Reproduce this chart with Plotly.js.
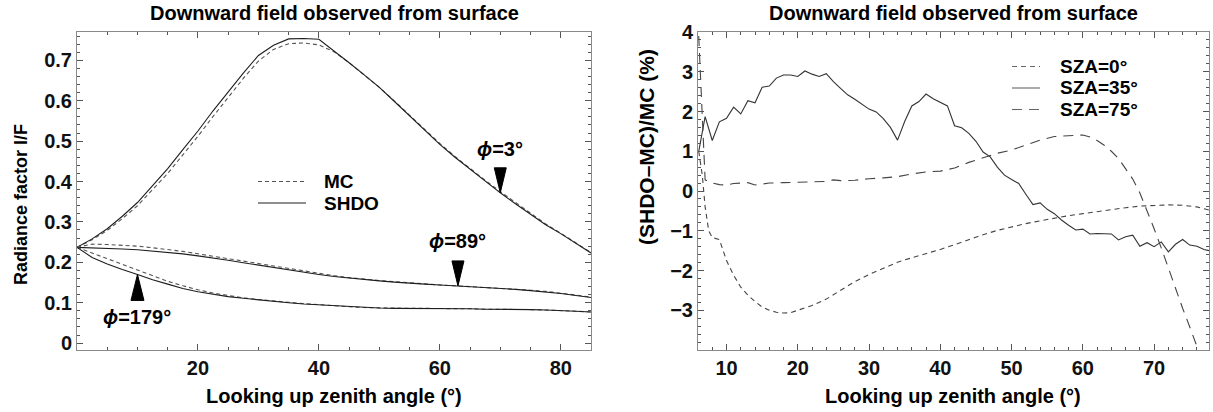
<!DOCTYPE html>
<html>
<head>
<meta charset="utf-8">
<script src="https://cdn.plot.ly/plotly-3.0.1.min.js"></script>
<style>html,body{margin:0;padding:0;background:#fff;}#chart{width:1213px;height:412px;}</style>
</head>
<body>
<div id="chart"></div>
<script>
// ---------- Left panel: radiance factor vs looking-up zenith angle ----------
const xPhi = [0,2.5,5,7.5,10,12.5,15,17.5,20,22.5,25,27.5,30,32.5,35,37.5,40,42.5,45,47.5,50,52.5,55,57.5,60,62.5,65,67.5,70,72.5,75,77.5,80,82.5,85];
const shdo3 = [0.237,0.258,0.283,0.314,0.348,0.390,0.432,0.479,0.525,0.575,0.622,0.668,0.712,0.737,0.753,0.754,0.752,0.724,0.694,0.664,0.633,0.598,0.562,0.528,0.492,0.460,0.430,0.400,0.372,0.345,0.318,0.293,0.271,0.248,0.223];
const mc3 = [0.237,0.256,0.279,0.308,0.340,0.380,0.420,0.466,0.512,0.561,0.608,0.655,0.698,0.727,0.741,0.743,0.738,0.721,0.694,0.664,0.633,0.599,0.564,0.530,0.494,0.462,0.432,0.403,0.375,0.348,0.320,0.295,0.272,0.249,0.224];
const shdo89 = [0.237,0.236,0.234,0.233,0.231,0.228,0.225,0.221,0.216,0.211,0.205,0.199,0.193,0.187,0.181,0.175,0.170,0.165,0.161,0.157,0.154,0.151,0.148,0.146,0.144,0.142,0.140,0.138,0.136,0.133,0.130,0.127,0.123,0.118,0.113];
const mc89 = [0.237,0.245,0.244,0.242,0.240,0.236,0.232,0.227,0.221,0.215,0.209,0.203,0.196,0.190,0.184,0.178,0.172,0.167,0.162,0.158,0.155,0.152,0.149,0.146,0.144,0.142,0.140,0.138,0.136,0.134,0.131,0.128,0.124,0.119,0.114];
const shdo179 = [0.237,0.212,0.196,0.182,0.170,0.157,0.146,0.135,0.127,0.121,0.115,0.111,0.107,0.103,0.100,0.097,0.095,0.092,0.090,0.088,0.087,0.086,0.086,0.086,0.086,0.085,0.085,0.084,0.084,0.083,0.083,0.082,0.081,0.079,0.077];
const mc179 = [0.237,0.223,0.208,0.194,0.181,0.167,0.153,0.142,0.132,0.124,0.118,0.112,0.108,0.104,0.101,0.098,0.095,0.092,0.090,0.088,0.087,0.086,0.086,0.086,0.086,0.085,0.085,0.084,0.084,0.083,0.083,0.082,0.081,0.079,0.077];

const phiLabels = ['<i>ϕ</i>=3°', '<i>ϕ</i>=89°', '<i>ϕ</i>=179°'];
const phiArrowX = [70, 63, 10];
const leftLegendNames = ['MC', 'SHDO'];

// ---------- Right panel: relative difference ----------
const x35 = [6.1,7,8,9,10,11,12,13,14,15,16,17,18,19,20,21,22,23,24,25,26,27,28,29,30,31,32,33,34,35,36,37,38,39,40,41,42,43,44,45,46,47,48,49,50,51,52,53,54,55,56,57,58,59,60,61,62,63,64,65,66,67,68,69,70,71,72,73,74,75,76,77,77.7];
const sza35 = [0.99,1.87,1.27,1.74,1.83,2.11,1.94,2.27,2.22,2.61,2.64,2.84,2.92,2.92,2.88,3.02,2.94,2.88,2.95,2.75,2.58,2.42,2.31,2.19,2.06,1.99,1.82,1.60,1.28,1.75,2.14,2.25,2.44,2.32,2.24,2.14,1.64,1.59,1.45,1.25,0.98,0.86,0.60,0.40,0.29,0.19,-0.08,-0.34,-0.30,-0.46,-0.57,-0.73,-0.86,-0.98,-0.96,-1.08,-1.07,-1.07,-1.08,-1.23,-1.15,-1.11,-1.39,-1.30,-1.40,-1.28,-1.53,-1.34,-1.22,-1.36,-1.39,-1.47,-1.50];
const x0 = [6.1,6.6,7.0,7.5,8,9,10,11,12,13,14,15,16,17,18,19,20,22,24,26,28,30,32,34,36,38,40,42,44,46,48,50,52,54,56,58,60,62,64,66,68,70,72,74,76,77.7];
const sza0 = [1.0,0.4,-0.4,-1.0,-1.17,-1.22,-1.75,-2.12,-2.42,-2.62,-2.78,-2.92,-3.0,-3.05,-3.07,-3.06,-3.0,-2.88,-2.72,-2.5,-2.28,-2.1,-1.94,-1.79,-1.68,-1.58,-1.47,-1.35,-1.22,-1.1,-0.99,-0.9,-0.82,-0.75,-0.68,-0.62,-0.57,-0.52,-0.46,-0.42,-0.38,-0.36,-0.35,-0.36,-0.40,-0.48];
const x75 = [6.1,7.0,8,9,10,11,12,13,14,15,16,18,20,22,24,25,26,28,30,32,34,36,38,40,42,44,46,48,50,52,54,56,58,60,61,62,63,64,65,66,67,68,69,70,71,72,73,74,75,76,76.4];
const sza75 = [3.9,0.28,0.2,0.16,0.15,0.19,0.2,0.21,0.15,0.17,0.2,0.21,0.22,0.23,0.24,0.28,0.26,0.27,0.31,0.33,0.36,0.43,0.48,0.5,0.58,0.72,0.84,0.95,1.03,1.16,1.28,1.37,1.39,1.41,1.36,1.27,1.15,1.0,0.82,0.57,0.3,-0.05,-0.48,-0.95,-1.43,-1.95,-2.45,-2.95,-3.42,-3.9,-4.1];
const rightLegendNames = ['SZA=0°', 'SZA=35°', 'SZA=75°'];

const titleText = 'Downward field observed from surface';
const xTitleText = 'Looking up zenith angle (°)';
const yTitleLeft = 'Radiance factor I/F';
const yTitleRight = '(SHDO\u2013MC)/MC (%)';

// ---------- helpers ----------
const W = 1213, H = 412, MT = 32, MB = 62;
const PH = H - MT - MB;
const px = v => v / W;
const py = v => (H - MB - v) / PH;
function interp(xs, ys, x) {
  for (let i = 0; i < xs.length - 1; i++) {
    if (x >= xs[i] && x <= xs[i + 1]) {
      const t = (x - xs[i]) / (xs[i + 1] - xs[i]);
      return ys[i] + t * (ys[i + 1] - ys[i]);
    }
  }
  return ys[ys.length - 1];
}

const FONT = 'Liberation Sans, Arial, Helvetica, sans-serif';
const tickFont = {family: FONT, size: 20, color: '#111', weight: 'bold'};
const solidC = '#1e1e1e', dashC = '#555555';

const traces = [];
const leftSets = [[mc3, shdo3], [mc89, shdo89], [mc179, shdo179]];
leftSets.forEach(([mc, sh]) => {
  traces.push({x: xPhi, y: mc, type: 'scatter', mode: 'lines', name: 'MC', showlegend: false,
    line: {color: dashC, width: 1.1, dash: '4px,3px'}, xaxis: 'x', yaxis: 'y'});
  traces.push({x: xPhi, y: sh, type: 'scatter', mode: 'lines', name: 'SHDO', showlegend: false,
    line: {color: solidC, width: 1.1}, xaxis: 'x', yaxis: 'y'});
});
traces.push({x: x0, y: sza0, type: 'scatter', mode: 'lines', name: rightLegendNames[0], showlegend: false,
  line: {color: '#444', width: 1.1, dash: '5px,4px'}, xaxis: 'x2', yaxis: 'y2'});
traces.push({x: x35, y: sza35, type: 'scatter', mode: 'lines', name: rightLegendNames[1], showlegend: false,
  line: {color: '#333', width: 1.1}, xaxis: 'x2', yaxis: 'y2'});
traces.push({x: x75, y: sza75, type: 'scatter', mode: 'lines', name: rightLegendNames[2], showlegend: false,
  line: {color: '#444', width: 1.1, dash: '10px,7px'}, xaxis: 'x2', yaxis: 'y2'});

const axisCommon = {
  showgrid: false, zeroline: false, showline: true, linecolor: '#8a8a8a', linewidth: 1,
  mirror: 'ticks', ticks: 'inside', ticklen: 6, tickcolor: '#555', tickwidth: 1,
  tickfont: tickFont, fixedrange: true
};

const shapes = [];
const annotations = [];
const labFont = {family: FONT, size: 20, color: '#000', weight: 'bold'};
const legFont = {family: FONT, size: 19, color: '#000', weight: 'bold'};

// Arrow triangles + phi labels (anchored on the SHDO curves)
const shdoPhi = [shdo3, shdo89, shdo179];
const pointDown = [true, true, false];
const labelShift = [44, 45, -43];
phiArrowX.forEach((ax, i) => {
  const ay = interp(xPhi, shdoPhi[i], ax);
  const path = pointDown[i] ? 'M0,0 L-6,25 L6,25 Z' : 'M0,0 L-6.5,-26 L6.5,-26 Z';
  shapes.push({type: 'path', xref: 'x', yref: 'y', xsizemode: 'pixel', ysizemode: 'pixel',
    xanchor: ax, yanchor: ay, path: path, fillcolor: '#000', line: {color: '#000', width: 1}});
  annotations.push({xref: 'x', yref: 'y', x: ax, y: ay, yshift: labelShift[i], showarrow: false,
    text: phiLabels[i], xanchor: 'center', yanchor: 'middle', font: labFont});
});

// Left legend (drawn)
const leftLegY = [181.5, 203];
const leftLegDash = ['4px,3px', 'solid'];
const leftLegCol = [dashC, solidC];
leftLegendNames.forEach((n, i) => {
  shapes.push({type: 'line', xref: 'paper', yref: 'paper', x0: px(258), x1: px(306), y0: py(leftLegY[i]), y1: py(leftLegY[i]),
    line: {color: leftLegCol[i], width: 1.1, dash: leftLegDash[i]}});
  annotations.push({xref: 'paper', yref: 'paper', x: px(322), y: py(leftLegY[i]), xanchor: 'left', yanchor: 'middle',
    showarrow: false, text: n, font: legFont});
});
// Right legend (drawn)
const rightLegY = [66.5, 88, 109.5];
const rightLegDash = ['5px,4px', 'solid', '10px,7px'];
rightLegendNames.forEach((n, i) => {
  shapes.push({type: 'line', xref: 'paper', yref: 'paper', x0: px(1012), x1: px(1040), y0: py(rightLegY[i]), y1: py(rightLegY[i]),
    line: {color: '#666', width: 1.1, dash: rightLegDash[i]}});
  annotations.push({xref: 'paper', yref: 'paper', x: px(1058), y: py(rightLegY[i]), xanchor: 'left', yanchor: 'middle',
    showarrow: false, text: n, font: legFont});
});

// Titles
const titleFont = {family: FONT, size: 20, color: '#000', weight: 'bold'};
[[334, 13], [953, 13]].forEach(([cx, cy]) => {
  annotations.push({xref: 'paper', yref: 'paper', x: px(cx), y: py(cy), xanchor: 'center', yanchor: 'middle',
    showarrow: false, text: titleText, font: titleFont});
});
[[334, 396], [953, 396]].forEach(([cx, cy]) => {
  annotations.push({xref: 'paper', yref: 'paper', x: px(cx), y: py(cy), xanchor: 'center', yanchor: 'middle',
    showarrow: false, text: xTitleText, font: {family: FONT, size: 20, color: '#000', weight: 'bold'}});
});
annotations.push({xref: 'paper', yref: 'paper', x: px(21), y: py(205), xanchor: 'center', yanchor: 'middle',
  showarrow: false, textangle: -90, text: yTitleLeft, font: {family: FONT, size: 18, color: '#000', weight: 'bold'}});
annotations.push({xref: 'paper', yref: 'paper', x: px(646), y: py(147), xanchor: 'center', yanchor: 'middle',
  showarrow: false, textangle: -90, text: yTitleRight, font: {family: FONT, size: 21, color: '#000', weight: 'bold'}});

const layout = {
  width: W, height: H,
  margin: {l: 0, r: 0, t: MT, b: MB, pad: 0},
  paper_bgcolor: '#fff', plot_bgcolor: '#fff',
  showlegend: false,
  xaxis: Object.assign({}, axisCommon, {domain: [px(77), px(591)], range: [0, 85], anchor: 'y',
    tickmode: 'array', tickvals: [20, 40, 60, 80], minor: {dtick: 5, tick0: 0, ticklen: 3, tickcolor: '#555', ticks: 'inside'}}),
  yaxis: Object.assign({}, axisCommon, {domain: [0, 1], range: [-0.017, 0.77], anchor: 'x',
    tickmode: 'linear', tick0: 0, dtick: 0.1, minor: {dtick: 0.02, tick0: 0, ticklen: 3, tickcolor: '#555', ticks: 'inside'}}),
  xaxis2: Object.assign({}, axisCommon, {domain: [px(698), px(1209)], range: [6, 77.7], anchor: 'y2',
    tickmode: 'linear', tick0: 0, dtick: 10, minor: {dtick: 2, tick0: 0, ticklen: 3, tickcolor: '#555', ticks: 'inside'}}),
  yaxis2: Object.assign({}, axisCommon, {domain: [0, 1], range: [-4, 4], anchor: 'x2',
    tickmode: 'array', tickvals: [-3, -2, -1, 0, 1, 2, 3, 4], minor: {dtick: 0.2, tick0: 0, ticklen: 3, tickcolor: '#555', ticks: 'inside'}}),
  shapes: shapes,
  annotations: annotations
};

Plotly.newPlot('chart', traces, layout, {displayModeBar: false, staticPlot: true});
</script>
</body>
</html>
